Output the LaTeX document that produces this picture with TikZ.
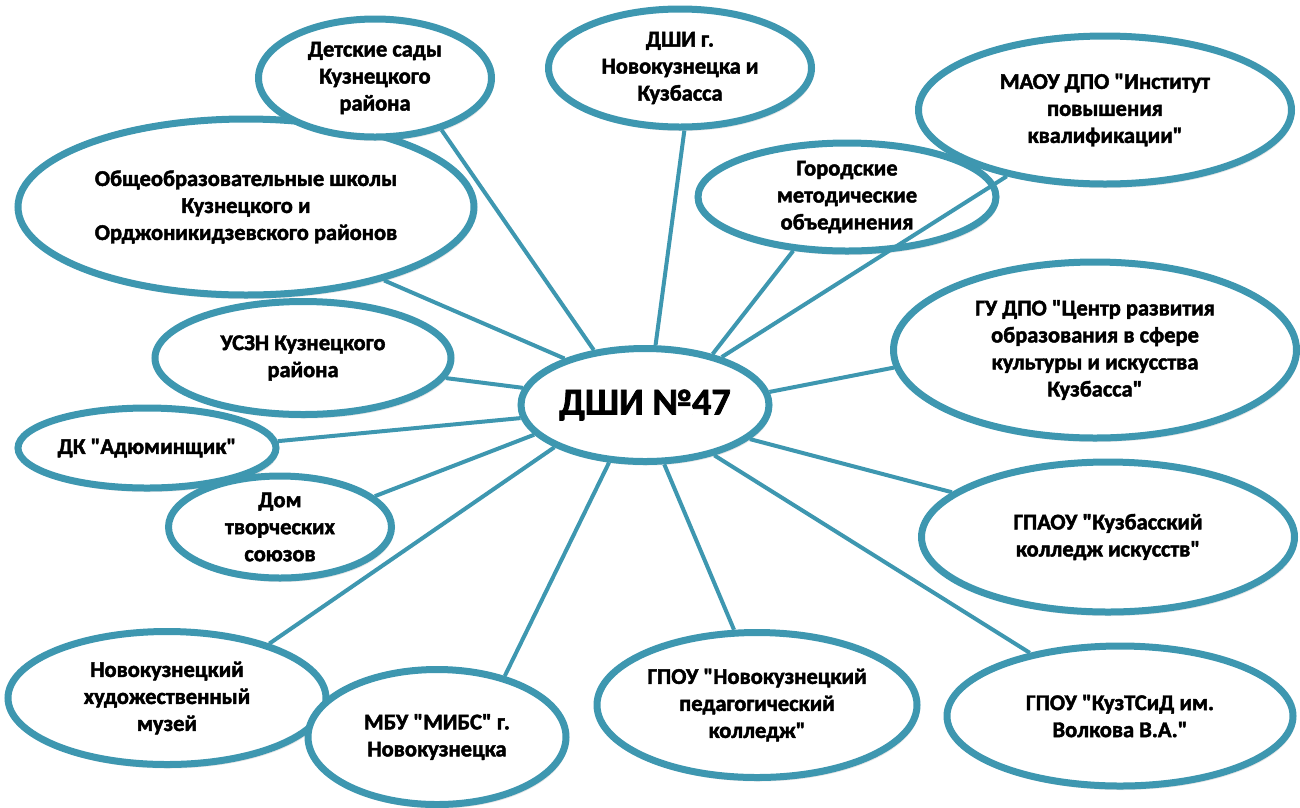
\documentclass[tikz,border=0pt]{standalone}
\usepackage{fontspec}
\newfontfamily\cfont{Carlito}[UprightFont=*-Bold, FakeBold=2]
\usetikzlibrary{shapes.geometric,shadows}
\definecolor{teal1}{RGB}{62,151,176}
\tikzset{
  bub/.style={ellipse, draw=teal1, line width=7pt, fill=white, inner sep=0pt,
    align=center, text=black, font=\cfont\fontsize{22.5}{27}\selectfont,
    drop shadow={opacity=0.2, shadow xshift=2pt, shadow yshift=-4pt}},
  link/.style={draw=teal1, line width=4pt}
}
\begin{document}
\begin{tikzpicture}[x=1pt,y=-1pt]
\useasboundingbox (0,0) rectangle (1300,807);
\node[bub, minimum width=456pt, minimum height=176pt] (obsh) at (246,207) {Общеобразовательные школы\\Кузнецкого и\\Орджоникидзевского районов};
\node[bub, minimum width=233pt, minimum height=118pt] (det) at (375,78) {Детские сады\\Кузнецкого\\района};
\node[bub, minimum width=263pt, minimum height=118pt] (dshi) at (680,68) {ДШИ г.\\Новокузнецка и\\Кузбасса};
\node[bub, minimum width=298pt, minimum height=108pt] (gor) at (847,197) {Городские\\методические\\объединения};
\node[bub, minimum width=373pt, minimum height=148pt] (maou) at (1105,110) {МАОУ ДПО "Институт\\повышения\\квалификации"};
\node[bub, minimum width=296pt, minimum height=113pt] (uszn) at (303,358) {УСЗН Кузнецкого\\района};
\node[bub, minimum width=403pt, minimum height=176pt] (gu) at (1095,350) {ГУ ДПО "Центр развития\\образования в сфере\\культуры и искусства\\Кузбасса"};
\node[bub, minimum width=258pt, minimum height=80pt] (dk) at (147,448) {ДК "Адюминщик"};
\node[bub, minimum width=223pt, minimum height=102pt] (dom) at (280,527) {Дом\\творческих\\союзов};
\node[bub, minimum width=373pt, minimum height=150pt] (gpaou) at (1108,537) {ГПАОУ "Кузбасский\\колледж искусств"};
\node[bub, minimum width=318pt, minimum height=133pt] (muz) at (167,698) {Новокузнецкий\\художественный\\музей};
\node[bub, minimum width=258pt, minimum height=135pt] (mbu) at (437,737) {МБУ "МИБС" г.\\Новокузнецка};
\node[bub, minimum width=320pt, minimum height=145pt] (ped) at (757,705) {ГПОУ "Новокузнецкий\\педагогический\\колледж"};
\node[bub, minimum width=346pt, minimum height=140pt] (kuz) at (1120,716) {ГПОУ "КузТСиД им.\\Волкова В.А."};
\node[bub, minimum width=248pt, minimum height=113pt, font=\cfont\fontsize{38}{44}\selectfont] (c) at (645,405) {ДШИ №47};
\draw[link] (c.133) -- (det.-38);
\draw[link] (c.80) -- (dshi.-86);
\draw[link] (c.37) -- (gor.-135);
\draw[link] (c.32) -- (maou.-146);
\draw[link] (c.6) -- (gu.-175);
\draw[link] (c.-18) -- (gpaou.164);
\draw[link] (c.-36) -- (kuz.145);
\draw[link] (c.-72) -- (ped.107);
\draw[link] (c.-122) -- (mbu.42);
\draw[link] (c.-155) -- (muz.28);
\draw[link] (c.-165) -- (dom.18);
\draw[link] (c.-174) -- (dk.3.5);
\draw[link] (c.172) -- (uszn.-8);
\draw[link] (c.150) -- (obsh.-28);
\end{tikzpicture}
\end{document}
